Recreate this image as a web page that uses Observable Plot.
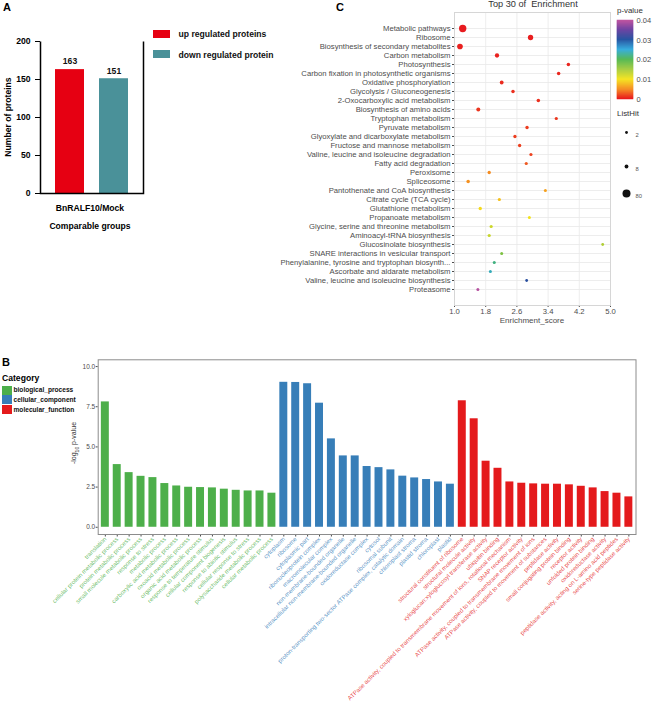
<!DOCTYPE html>
<html><head><meta charset="utf-8">
<script src="https://cdn.jsdelivr.net/npm/d3@7"></script>
<script src="https://cdn.jsdelivr.net/npm/@observablehq/plot@0.6"></script>
<style>
body{margin:0;background:#fff;font-family:"Liberation Sans",Arial,sans-serif;}
#root{position:relative;width:652px;height:708px;overflow:hidden;background:#fff;}
.abs{position:absolute;white-space:pre;line-height:1;}
#pa svg [aria-label="y-axis tick"], #pa svg .tick line{stroke-width:1.5px;}
</style></head><body><div id="root"></div>
<script>
// ---------- Panel A data ----------
const groupsA = ["up regulated proteins", "down regulated protein"];
const countsA = [163, 151];
const colorsA = ["#e60012", "#4a9199"];
const ticksA = [0, 50, 100, 150, 200];

// ---------- Panel C data ----------
const pathways = ["Metabolic pathways","Ribosome","Biosynthesis of secondary metabolites","Carbon metabolism","Photosynthesis","Carbon fixation in photosynthetic organisms","Oxidative phosphorylation","Glycolysis / Gluconeogenesis","2-Oxocarboxylic acid metabolism","Biosynthesis of amino acids","Tryptophan metabolism","Pyruvate metabolism","Glyoxylate and dicarboxylate metabolism","Fructose and mannose metabolism","Valine, leucine and isoleucine degradation","Fatty acid degradation","Peroxisome","Spliceosome","Pantothenate and CoA biosynthesis","Citrate cycle (TCA cycle)","Glutathione metabolism","Propanoate metabolism","Glycine, serine and threonine metabolism","Aminoacyl-tRNA biosynthesis","Glucosinolate biosynthesis","SNARE interactions in vesicular transport","Phenylalanine, tyrosine and tryptophan biosynth...","Ascorbate and aldarate metabolism","Valine, leucine and isoleucine biosynthesis","Proteasome"];
const enrichScores = [1.21,2.95,1.14,2.09,3.92,3.67,2.21,2.50,3.15,1.61,3.61,2.86,2.55,2.67,2.96,2.84,1.89,1.35,3.33,2.15,1.66,2.92,1.94,1.89,4.80,2.21,2.02,1.92,2.85,1.60];
const pValues = [0.0001,0.0002,0.0003,0.0004,0.0005,0.0006,0.0008,0.0010,0.0010,0.0012,0.0013,0.0015,0.0016,0.0017,0.0018,0.0028,0.0050,0.0053,0.0062,0.0080,0.0095,0.0102,0.0125,0.0128,0.0142,0.0172,0.0218,0.0238,0.0305,0.0392];
const listHits = [64,26,31,13,6,6,8,6,6,10,4,5,5,5,4,4,5,6,3,4,5,3,4,4,2,3,3,3,2,3];
const xTicksC = [1.0, 1.8, 2.6, 3.4, 4.2, 5.0];
const pStops = [0, 0.005, 0.01, 0.015, 0.02, 0.025, 0.03, 0.035, 0.04];
const pColors = ["#e8191f","#f58c20","#f5e31a","#a3ca3a","#4cb54b","#2ca8dc","#1f4e9e","#6a3fa0","#c455a0"];
const pTicks = [0, 0.01, 0.02, 0.03, 0.04];
const hitLegend = [2, 8, 80];

// ---------- Panel B data ----------
const categories = ["biological_process","cellular_component","molecular_function"];
const catColors = ["#4daf4a","#377eb8","#e41a1c"];
const bpTerms = ["translation","cellular protein metabolic process","protein metabolic process","small molecule metabolic process","response to stress","metabolic process","carboxylic acid metabolic process","oxoacid metabolic process","organic acid metabolic process","response to temperature stimulus","cellular component biogenesis","response to abiotic stimulus","cellular response to stress","polysaccharide metabolic process","cellular metabolic process"];
const bpVals = [7.80,3.90,3.40,3.17,3.09,2.72,2.57,2.49,2.47,2.45,2.37,2.30,2.26,2.26,2.12];
const ccTerms = ["cytoplasm","ribosome","cytoplasmic part","ribonucleoprotein complex","macromolecular complex","non-membrane-bounded organelle","intracellular non-membrane-bounded organelle","oxidoreductase complex","cytosol","ribosomal subunit","proton-transporting two-sector ATPase complex, catalytic domain","chloroplast stroma","plastid stroma","chloroplast","plastid"];
const ccVals = [9.02,9.01,8.93,7.72,5.50,4.44,4.44,3.78,3.71,3.57,3.18,3.07,2.97,2.82,2.68];
const mfTerms = ["structural constituent of ribosome","structural molecule activity","xyloglucan:xyloglucosyl transferase activity","ubiquitin binding","ATPase activity, coupled to transmembrane movement of ions, rotational mechanism","SNAP receptor activity","ATPase activity, coupled to transmembrane movement of ions","ATPase activity, coupled to movement of substances","peptidase activity","small conjugating protein binding","receptor activity","unfolded protein binding","oxidoreductase activity","peptidase activity, acting on L-amino acid peptides","serine-type peptidase activity"];
const mfVals = [7.87,6.75,4.11,3.67,2.82,2.74,2.70,2.68,2.68,2.64,2.55,2.45,2.22,2.12,1.89];
const yTicksB = [0, 2.5, 5, 7.5, 10];

// ---------- helpers ----------
const root = document.getElementById("root");
const FONT = '"Liberation Sans", Arial, sans-serif';
function place(el, left, top) {
  el.style.position = "absolute"; el.style.left = left + "px"; el.style.top = top + "px";
  root.appendChild(el); return el;
}
function txt(s, x, y, css = {}, center = true, rot = 0) {
  const d = document.createElement("div");
  d.className = "abs"; d.innerHTML = s;
  d.style.left = x + "px"; d.style.top = y + "px";
  d.style.transform = `translate(${center ? "-50%" : "0"},-50%) rotate(${rot}deg)`;
  Object.assign(d.style, css);
  root.appendChild(d); return d;
}
function swatch(color, x, y, w, h) {
  const d = document.createElement("div");
  Object.assign(d.style, {position: "absolute", left: x + "px", top: y + "px", width: w + "px", height: h + "px", background: color});
  root.appendChild(d);
}

// ---------- Panel A ----------
const dataA = groupsA.map((g, i) => ({g, n: countsA[i]}));
const wA = 150, hA = 200, mlA = 40, mrA = 7, mtA = 41, mbA = 7;
const fw = wA - mlA - mrA, fh = hA - mtA - mbA;
const plotA = Plot.plot({
  width: wA, height: hA, marginLeft: mlA, marginRight: mrA, marginTop: mtA, marginBottom: mbA,
  style: {fontFamily: FONT, fontSize: "8.6px", fontWeight: "bold", color: "#000", background: "transparent", overflow: "visible"},
  x: {domain: groupsA, paddingInner: 0.34, paddingOuter: 0.34, axis: null},
  y: {domain: [0, 200], ticks: ticksA, tickSize: 5, tickPadding: 5, label: null},
  color: {domain: groupsA, range: colorsA},
  marks: [
    Plot.barY(dataA, {x: "g", y: "n", fill: "g"}),
    Plot.text(dataA, {x: "g", y: "n", text: d => String(d.n), dy: -8, fontSize: 8.6, fontWeight: "bold", fill: "#111"}),
    Plot.frame({stroke: "#000", strokeWidth: 1.5, strokeDasharray: `0 ${fw} ${2 * fh + fw}`})
  ]
});
plotA.id = "pa";
place(plotA, 0, 0);
txt("A", 3, 7, {fontWeight: "bold", fontSize: "11px"}, false);
txt("Number of proteins", 8, 117, {fontWeight: "bold", fontSize: "8.6px"}, true, -90);
txt("BnRALF10/Mock", 90, 207.5, {fontWeight: "bold", fontSize: "8.6px"});
txt("Comparable groups", 90, 226, {fontWeight: "bold", fontSize: "8.6px"});
groupsA.forEach((g, i) => {
  swatch(colorsA[i], 153, 29.5 + i * 20.5, 16.5, 8.3);
  txt(g, 178.5, 34 + i * 20.5, {fontWeight: "bold", fontSize: "8.6px", color: "#111"}, false);
});

// ---------- Panel C ----------
const dataC = pathways.map((name, i) => ({name, score: enrichScores[i], p: pValues[i], hits: listHits[i]}));
const plotC = Plot.plot({
  width: 354, height: 330, marginLeft: 156, marginRight: 42, marginTop: 12, marginBottom: 25,
  style: {fontFamily: FONT, fontSize: "7.7px", color: "#4d4d4d", background: "transparent", overflow: "visible"},
  x: {domain: [1, 5], ticks: xTicksC, tickFormat: d => d.toFixed(1), tickSize: 2, tickPadding: 1, label: null},
  y: {type: "point", domain: pathways, padding: 1.44, tickSize: 2, tickPadding: 2, label: null},
  r: {type: "sqrt", domain: [2, 80], range: [1.4, 4]},
  color: {type: "linear", domain: pStops, range: pColors},
  marks: [
    Plot.ruleY(pathways, {y: d => d, stroke: "#e8e8e8", strokeWidth: 0.8}),
    Plot.ruleX(xTicksC, {x: d => d, stroke: "#e8e8e8", strokeWidth: 0.8}),
    Plot.frame({stroke: "#d6d6d6"}),
    Plot.dot(dataC, {x: "score", y: "name", r: "hits", fill: "p", stroke: null}),
    ...hitLegend.map((h, i) => Plot.dot([h], {r: d => d, fill: "#111", frameAnchor: "top-right", dx: 16, dy: [120, 154, 181][i]})),
    ...hitLegend.map((h, i) => Plot.text([h], {text: d => String(d), frameAnchor: "top-right", dx: 25, dy: [120, 154, 181][i], textAnchor: "start", fontSize: 5.8, fill: "#555"}))
  ]
});
place(plotC, 298, 0);
txt("C", 336, 7, {fontWeight: "bold", fontSize: "11px"}, false);
txt("Top 30 of  Enrichment", 533, 5, {fontSize: "9.2px", color: "#333"});
txt("Enrichment_score", 532, 321, {fontSize: "8px", color: "#4d4d4d"});
txt("p-value", 617, 11, {fontSize: "7.9px", color: "#333"}, false);
txt("ListHit", 617, 114, {fontSize: "7.9px", color: "#333"}, false);

// colour bar
const cells = d3.range(0, 0.04, 0.0005).map(v => ({v0: v, v1: v + 0.0005}));
const plotBar = Plot.plot({
  width: 35, height: 110, marginLeft: 0, marginRight: 19, marginTop: 20, marginBottom: 11,
  style: {fontFamily: FONT, fontSize: "7.5px", color: "#4d4d4d", background: "transparent", overflow: "visible"},
  x: {domain: [0, 1], axis: null},
  y: {domain: [0, 0.04], ticks: pTicks, tickFormat: d => d === 0 ? "0" : d.toFixed(2), axis: "right", tickSize: 0, tickPadding: 3, label: null},
  color: {type: "linear", domain: pStops, range: pColors},
  marks: [
    Plot.rect(cells, {x1: 0, x2: 1, y1: "v0", y2: "v1", fill: "v0", stroke: "v0", strokeWidth: 0.5})
  ]
});
place(plotBar, 617, 0);

// ---------- Panel B ----------
const dataB = [
  ...bpTerms.map((t, i) => ({term: t, v: bpVals[i], cat: categories[0]})),
  ...ccTerms.map((t, i) => ({term: t, v: ccVals[i], cat: categories[1]})),
  ...mfTerms.map((t, i) => ({term: t, v: mfVals[i], cat: categories[2]}))
];
const plotB = Plot.plot({
  width: 652, height: 368, marginLeft: 97.7, marginRight: 16.5, marginTop: 19.3, marginBottom: 174,
  style: {fontFamily: FONT, fontSize: "6.5px", color: "#4d4d4d", background: "transparent", overflow: "visible"},
  x: {domain: dataB.map(d => d.term), paddingInner: 0.33, paddingOuter: 0.265, tickSize: 2.5, tickFormat: () => "", label: null},
  y: {domain: [-0.45, 10.42], ticks: yTicksB, tickFormat: d => d.toFixed(1), tickSize: 2, tickPadding: 1, label: null},
  color: {domain: categories, range: catColors},
  marks: [
    Plot.frame({stroke: "#8c8c8c"}),
    Plot.barY(dataB, {x: "term", y: "v", fill: "cat"}),
    Plot.text(dataB, {x: "term", text: "term", frameAnchor: "bottom", rotate: -45, textAnchor: "end", dx: 1.5, dy: 5, fontSize: 6.1, fill: "cat", fillOpacity: 0.82})
  ]
});
place(plotB, 0, 340);
txt("B", 2, 362, {fontWeight: "bold", fontSize: "11px"}, false);
txt("Category", 2, 378, {fontWeight: "bold", fontSize: "8.6px"}, false);
categories.forEach((c, i) => {
  swatch(catColors[i], 2, 385.5 + i * 9.8, 10, 9.2);
  txt(c, 13.5, 390 + i * 9.8, {fontWeight: "bold", fontSize: "6.6px", color: "#111"}, false);
});
txt("-log<sub style=\"font-size:5px\">10</sub> p-value", 75, 443, {fontSize: "7px", color: "#333"}, true, -90);
</script></body></html>
